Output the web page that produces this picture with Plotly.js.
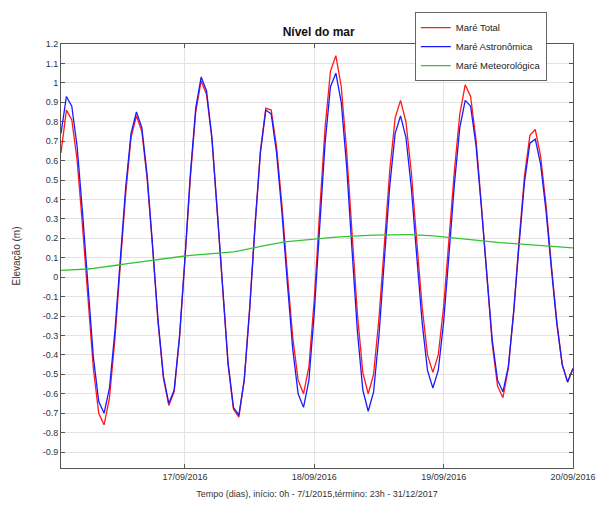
<!DOCTYPE html>
<html>
<head>
<meta charset="utf-8">
<script src="https://cdn.plot.ly/plotly-3.0.1.min.js"></script>
<style>html,body{margin:0;padding:0;background:#fff;}#chart{width:607px;height:509px;}</style>
</head>
<body>
<div id="chart"></div>
<script>
// Hourly samples, 16/09/2016 01:00 -> 20/09/2016 00:00
const startTime = '2016-09-16T01:00:00';
const nHours = 96;

const mareTotal = [
  0.64, 0.86, 0.81, 0.60, 0.26, -0.12, -0.47, -0.70, -0.76, -0.62,
  -0.32, 0.06, 0.43, 0.72, 0.83, 0.75, 0.50, 0.15, -0.23, -0.52,
  -0.66, -0.59, -0.31, 0.09, 0.51, 0.85, 1.01, 0.94, 0.71, 0.33,
  -0.08, -0.45, -0.68, -0.72, -0.53, -0.16, 0.27, 0.65, 0.87, 0.86,
  0.67, 0.37, 0.02, -0.31, -0.53, -0.60, -0.46, -0.11, 0.34, 0.77,
  1.06, 1.14, 0.98, 0.65, 0.23, -0.19, -0.49, -0.60, -0.50, -0.21,
  0.17, 0.55, 0.82, 0.91, 0.80, 0.54, 0.19, -0.15, -0.40, -0.49,
  -0.40, -0.15, 0.20, 0.55, 0.84, 0.99, 0.93, 0.71, 0.37, -0.01,
  -0.34, -0.56, -0.62, -0.47, -0.17, 0.19, 0.52, 0.73, 0.76, 0.62,
  0.37, 0.06, -0.23, -0.45, -0.54, -0.47
];

const mareAstronomica = [
  0.74, 0.93, 0.88, 0.67, 0.33, -0.06, -0.41, -0.64, -0.70, -0.57,
  -0.28, 0.09, 0.46, 0.74, 0.85, 0.77, 0.52, 0.16, -0.22, -0.51,
  -0.65, -0.58, -0.30, 0.10, 0.53, 0.87, 1.03, 0.96, 0.72, 0.34,
  -0.07, -0.44, -0.67, -0.71, -0.53, -0.17, 0.26, 0.64, 0.86, 0.84,
  0.64, 0.33, -0.03, -0.37, -0.60, -0.67, -0.53, -0.18, 0.26, 0.69,
  0.98, 1.05, 0.90, 0.57, 0.14, -0.28, -0.58, -0.69, -0.59, -0.30,
  0.09, 0.47, 0.74, 0.83, 0.72, 0.46, 0.11, -0.23, -0.48, -0.57,
  -0.48, -0.23, 0.12, 0.48, 0.77, 0.91, 0.88, 0.68, 0.36, 0.00,
  -0.32, -0.53, -0.59, -0.46, -0.18, 0.17, 0.49, 0.69, 0.71, 0.58,
  0.34, 0.04, -0.24, -0.45, -0.54, -0.47
];

const mareMeteorologica = [
  0.035, 0.036, 0.037, 0.038, 0.040, 0.042, 0.045, 0.048,
  0.052, 0.056, 0.060, 0.064, 0.068, 0.072, 0.076, 0.080,
  0.084, 0.088, 0.092, 0.096, 0.100, 0.103, 0.106, 0.109,
  0.112, 0.114, 0.116, 0.118, 0.120, 0.122, 0.124, 0.126,
  0.130, 0.135, 0.140, 0.146, 0.152, 0.158, 0.164, 0.170,
  0.175, 0.179, 0.183, 0.186, 0.189, 0.192, 0.195, 0.198,
  0.200, 0.202, 0.204, 0.206, 0.208, 0.210, 0.212, 0.213,
  0.214, 0.215, 0.216, 0.217, 0.218, 0.218, 0.219, 0.219,
  0.219, 0.219, 0.218, 0.217, 0.215, 0.213, 0.210, 0.207,
  0.204, 0.200, 0.197, 0.194, 0.191, 0.188, 0.185, 0.183,
  0.181, 0.179, 0.177, 0.175, 0.173, 0.171, 0.169, 0.167,
  0.165, 0.163, 0.161, 0.159, 0.157, 0.155, 0.153, 0.151
];

const xTickVals = ['2016-09-17', '2016-09-18', '2016-09-19', '2016-09-20'];
const xTickText = ['17/09/2016', '18/09/2016', '19/09/2016', '20/09/2016'];
const yTickVals = [-0.9, -0.8, -0.7, -0.6, -0.5, -0.4, -0.3, -0.2, -0.1, 0, 0.1, 0.2, 0.3, 0.4, 0.5, 0.6, 0.7, 0.8, 0.9, 1, 1.1, 1.2];
const yTickText = ['-0.9', '-0.8', '-0.7', '-0.6', '-0.5', '-0.4', '-0.3', '-0.2', '-0.1', '0', '0.1', '0.2', '0.3', '0.4', '0.5', '0.6', '0.7', '0.8', '0.9', '1', '1.1', '1.2'];

const seriesNames = ['Maré Total', 'Maré Astronômica', 'Maré Meteorológica'];

// timestamps (regular hourly sampling)
const t0 = new Date(startTime + 'Z').getTime();
const times = [];
for (let i = 0; i < nHours; i++) {
  const d = new Date(t0 + i * 3600000);
  times.push(d.toISOString().slice(0, 19).replace('T', ' '));
}

const FONT = 'Liberation Sans, Arial, Helvetica, sans-serif';

const traces = [
  {x: times, y: mareTotal, name: seriesNames[0], type: 'scatter', mode: 'lines',
   line: {color: '#ff1a1a', width: 1.3}},
  {x: times, y: mareAstronomica, name: seriesNames[1], type: 'scatter', mode: 'lines',
   line: {color: '#1a1aff', width: 1.3}},
  {x: times, y: mareMeteorologica, name: seriesNames[2], type: 'scatter', mode: 'lines',
   line: {color: '#33c433', width: 1.3}}
];

const axisCommon = {
  showline: true, mirror: 'ticks', linecolor: '#555', linewidth: 1,
  ticks: 'inside', ticklen: 4, tickcolor: '#555',
  showgrid: true, gridcolor: '#e3e3e3', gridwidth: 1, zeroline: false,
  tickfont: {family: FONT, size: 9, color: '#333'}
};

const layout = {
  width: 607, height: 509,
  margin: {l: 61, r: 34, t: 44, b: 41},
  paper_bgcolor: '#ffffff', plot_bgcolor: '#ffffff',
  font: {family: FONT, color: '#333'},
  title: {text: '<b>Nível do mar</b>', font: {family: FONT, size: 12, color: '#111'},
          x: 0.525, xanchor: 'center', y: 1 - 32 / 509, yanchor: 'middle'},
  xaxis: Object.assign({}, axisCommon, {
    type: 'date',
    range: ['2016-09-16 01:00', '2016-09-20 00:00'],
    tickmode: 'array', tickvals: xTickVals, ticktext: xTickText,
    title: {text: 'Tempo (dias), início: 0h - 7/1/2015,término: 23h - 31/12/2017',
            font: {family: FONT, size: 9, color: '#333'}, standoff: 9}
  }),
  yaxis: Object.assign({}, axisCommon, {
    range: [-0.982, 1.2],
    tickmode: 'array', tickvals: yTickVals, ticktext: yTickText,
    title: {text: 'Elevação (m)', font: {family: FONT, size: 10, color: '#333'}, standoff: 20}
  }),
  legend: {
    x: 0.691, xanchor: 'left', y: 1.075, yanchor: 'top',
    bgcolor: '#ffffff', bordercolor: '#666', borderwidth: 1,
    font: {family: FONT, size: 9.5, color: '#222'},
    tracegroupgap: 0, itemwidth: 30
  },
  showlegend: true
};

Plotly.newPlot('chart', traces, layout, {displayModeBar: false, staticPlot: true});
</script>
</body>
</html>
